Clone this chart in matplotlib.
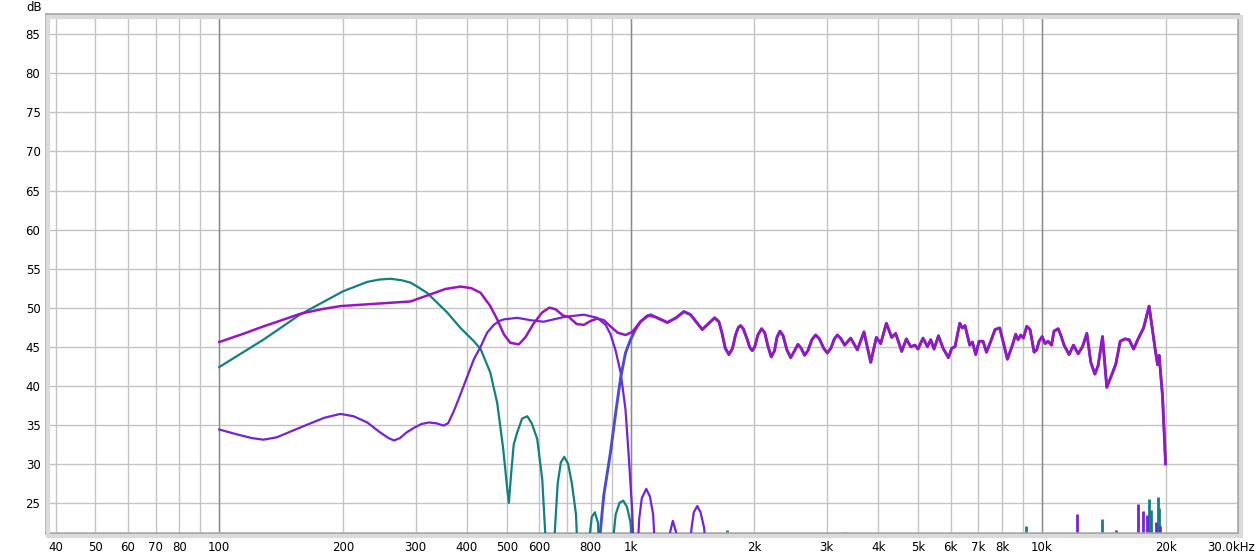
import numpy as np
import matplotlib
matplotlib.use("Agg")
import matplotlib.pyplot as plt
import matplotlib.transforms as mtransforms
from matplotlib.patches import Rectangle

# Frequency response data (Hz, dB)
sum_freq = [100, 115, 128, 142, 157, 177, 197, 225, 256, 292, 326, 355, 386, 410, 432,
            456, 474, 492, 510, 535, 555, 580, 610, 635, 657, 685, 708, 740, 770, 800,
            830, 861, 894, 930, 972, 1010, 1057, 1100, 1150, 1229, 1290, 1348, 1400,
            1494, 1601, 1640, 1668, 1700, 1735, 1770, 1800, 1830, 1852, 1880, 1920,
            1950, 1978, 2005, 2040, 2083, 2120, 2160, 2199, 2240, 2270, 2309, 2350,
            2400, 2451, 2500, 2553, 2600, 2651, 2700, 2760, 2819, 2880, 2950, 3010,
            3070, 3130, 3184, 3250, 3317, 3430, 3561, 3695, 3837, 3961, 4058,
            4189, 4315, 4413, 4564, 4685, 4800, 4917, 5000, 5143, 5271, 5370, 5470,
            5607, 5754, 5929, 6040, 6152, 6317, 6412, 6507, 6680, 6782, 6909, 7038,
            7198, 7336, 7515, 7697, 7903, 8250, 8484, 8642, 8754, 8889, 9025, 9193,
            9365, 9579, 9720, 9850, 10020, 10190, 10360, 10560, 10710, 10960, 11120,
            11330, 11650, 11940, 12260, 12560, 12870, 13160, 13460, 13710, 14050,
            14390, 14770, 15140, 15510, 15920, 16310, 16720, 17150, 17680, 18240,
            18830, 19120, 19290, 19660, 20000]
sum_db = [45.6, 46.7, 47.6, 48.4, 49.2, 49.8, 50.2, 50.4, 50.6, 50.8, 51.7, 52.4, 52.7,
          52.5, 51.9, 50.2, 48.5, 46.6, 45.5, 45.3, 46.2, 47.9, 49.4, 50.0, 49.8, 49.0,
          48.8, 47.9, 47.8, 48.3, 48.6, 48.4, 47.6, 46.8, 46.5, 46.9, 48.2, 49.0, 48.8,
          48.1, 48.7, 49.5, 49.1, 47.2, 48.7, 48.2, 46.8, 44.8, 44.0, 44.8, 46.5, 47.5,
          47.7, 47.3, 46.0, 44.9, 44.5, 45.0, 46.5, 47.3, 46.8, 45.0, 43.7, 44.5, 46.2,
          47.0, 46.4, 44.6, 43.6, 44.4, 45.3, 44.8, 43.9, 44.5, 45.9, 46.5, 46.0, 44.8,
          44.2, 44.8, 46.0, 46.5, 46.0, 45.2, 46.1, 44.6, 46.9, 43.0,
          46.2, 45.4, 48.0, 46.2, 46.7, 44.4, 46.0, 45.0, 45.2, 44.7, 46.1, 45.0, 45.9,
          44.7, 46.4, 44.8, 43.6, 44.8, 45.0, 48.0, 47.4, 47.7, 45.2, 45.6, 44.0, 45.7,
          45.7, 44.3, 45.7, 47.2, 47.4, 43.4, 45.2, 46.6, 45.9, 46.5, 46.1, 47.6, 47.2,
          44.3, 44.6, 45.7, 46.3, 45.4, 45.7, 45.2, 47.0, 47.3, 46.5, 45.2, 44.0, 45.2,
          44.1, 45.0, 46.7, 43.0, 41.5, 42.6, 46.3, 39.8, 41.3, 42.8, 45.7, 46.0, 45.9,
          44.7, 46.0, 47.4, 50.2, 45.0, 42.7, 43.9, 38.7, 30.0]

woofer_freq = [100, 128, 157, 200, 229, 245, 261, 278, 292, 305, 320, 358, 386, 416, 432,
               456, 474, 490, 501, 506, 512, 520, 530, 545, 561, 575, 593, 610, 622, 627,
               645, 653, 665, 677, 690, 705, 720, 737, 748, 790, 796, 805, 819, 833, 845,
               900, 908, 920, 940, 960, 980, 1000, 1018, 1030]
woofer_db = [42.4, 45.9, 49.1, 52.1, 53.3, 53.6, 53.7, 53.5, 53.2, 52.6, 51.9, 49.4, 47.4,
             45.7, 44.7, 41.7, 37.8, 32.0, 27.0, 25.0, 28.5, 32.5, 34.0, 35.8, 36.1, 35.2,
             33.2, 28.0, 20.0, 12.0, 15.0, 20.5, 27.5, 30.2, 30.9, 30.0, 27.5, 23.5, 15.0,
             15.0, 21.0, 23.2, 23.8, 22.5, 15.0, 15.0, 20.5, 23.5, 25.0, 25.3, 24.5, 22.5,
             15.0, 10.0]

mid_freq = [100, 110, 120, 128, 138, 150, 165, 180, 197, 212, 229, 245, 258, 266, 275,
            285, 297, 310, 323, 337, 351, 360, 370, 380, 393, 405, 416, 432, 448, 465,
            480, 492, 530, 571, 615, 650, 688, 740, 770, 830, 870, 894, 920, 946, 972,
            990, 1010, 1021, 1038, 1050, 1065, 1092, 1115, 1135, 1150, 1160, 1210, 1229,
            1245, 1267, 1290, 1311, 1386, 1405, 1425, 1453, 1480, 1510, 1545, 1560]
mid_db = [34.4, 33.8, 33.3, 33.1, 33.4, 34.2, 35.1, 35.9, 36.4, 36.1, 35.3, 34.1, 33.3,
          33.0, 33.3, 34.0, 34.6, 35.1, 35.3, 35.2, 34.9, 35.2, 36.5, 38.0, 40.0, 41.8,
          43.4, 45.0, 46.8, 47.8, 48.3, 48.5, 48.7, 48.4, 48.2, 48.5, 48.8, 49.0, 49.1,
          48.7, 47.8, 46.6, 44.5, 41.7, 37.0, 31.0, 23.8, 15.0, 18.0, 23.0, 25.6, 26.8,
          25.8, 23.5, 18.0, 10.0, 10.0, 15.0, 21.0, 22.7, 21.3, 15.0, 15.0, 21.5, 23.8,
          24.6, 23.8, 21.8, 15.0, 10.0]

tweeter_freq = [830, 845, 861, 894, 920, 946, 972, 1000, 1028, 1057, 1092, 1119]
tweeter_db = [15.0, 21.5, 26.0, 31.5, 36.5, 41.0, 44.2, 45.9, 47.2, 48.2, 48.8, 49.1]

# noise spikes near the bottom of the plot
woofer_spike_freq = [1719, 3317, 9158, 13973, 18245, 18417, 19120, 19300]
woofer_spike_db = [21.5, 21.3, 22.1, 23.0, 25.5, 24.1, 25.8, 24.4]
mid_spike_freq = [12168, 15137, 17093, 17579, 18009, 18940, 19410]
mid_spike_db = [23.6, 21.5, 24.9, 24.0, 23.5, 22.5, 22.0]

xticks = [40, 50, 60, 70, 80, 90, 100, 200, 300, 400, 500, 600, 700, 800, 900, 1000,
          2000, 3000, 4000, 5000, 6000, 7000, 8000, 9000, 10000, 20000]
xticklabels = ["40", "50", "60", "70", "80", "", "100", "200", "300", "400", "500", "600",
               "", "800", "", "1k", "2k", "3k", "4k", "5k", "6k", "7k", "8k", "", "10k", "20k"]
yticks = [25, 30, 35, 40, 45, 50, 55, 60, 65, 70, 75, 80, 85]

c_woofer = "#128080"
c_mid = "#7322dd"
c_tweeter = "#4b4bd6"
c_sum = "#9915c4"

YMIN, YMAX = 21.15, 87.6

fig = plt.figure(figsize=(12.6, 5.55), dpi=100)
ax = fig.add_axes([46 / 1260, 1 - 533 / 555, 1192 / 1260, 519 / 555])

# frame shadow
shadow = Rectangle((48 / 1260, 1 - 536 / 555), 1193 / 1260, 519 / 555, transform=fig.transFigure,
                   facecolor="none", edgecolor="#dadada", linewidth=3, zorder=0)
fig.patches.append(shadow)

ax.set_xscale("log")
ax.set_xlim(37.9, 30000)
ax.set_ylim(YMIN, YMAX)

ax.set_xticks(xticks)
ax.set_xticklabels(xticklabels)
ax.xaxis.set_minor_locator(matplotlib.ticker.NullLocator())
ax.set_yticks(yticks)
ax.tick_params(axis="both", length=0, labelsize=8.5, colors="#000000")
ax.tick_params(axis="x", pad=6)
ax.tick_params(axis="y", pad=4)
ax.grid(True, color="#c4c4c4", linewidth=1.0)
for dec in [100, 1000, 10000]:
    ax.axvline(dec, color="#8a8a8a", linewidth=1.0, zorder=1)
ax.set_axisbelow(True)

for s in ax.spines.values():
    s.set_color("#a4a4a4")
    s.set_linewidth(1.8)

# the 30 kHz end label
ax.text(1.0, 0, "30.0kHz", transform=ax.transAxes + mtransforms.ScaledTranslation(-0.07, -0.08, fig.dpi_scale_trans),
        ha="center", va="top", fontsize=8.5)
fig.text(34 / 1260, 1 - 1 / 555, "dB", ha="center", va="top", fontsize=8.5)

sum_f = np.array(sum_freq)
sum_d = np.array(sum_db)
tw_f = np.concatenate([tweeter_freq, sum_f[sum_f > tweeter_freq[-1]]])
tw_d = np.concatenate([tweeter_db, sum_d[sum_f > tweeter_freq[-1]]])

ax.vlines(woofer_spike_freq, YMIN, woofer_spike_db, colors=c_woofer, linewidth=2, zorder=2)
ax.vlines(mid_spike_freq, YMIN, mid_spike_db, colors=c_mid, linewidth=2, zorder=2)
ax.plot(woofer_freq, woofer_db, color=c_woofer, linewidth=1.6, zorder=3)
ax.plot(mid_freq, mid_db, color=c_mid, linewidth=1.6, zorder=3)
ax.plot(tw_f, tw_d, color=c_tweeter, linewidth=2.1, zorder=3)
ax.plot(sum_f, sum_d, color=c_sum, linewidth=1.8, zorder=4)

fig.savefig("out.png", dpi=100)
